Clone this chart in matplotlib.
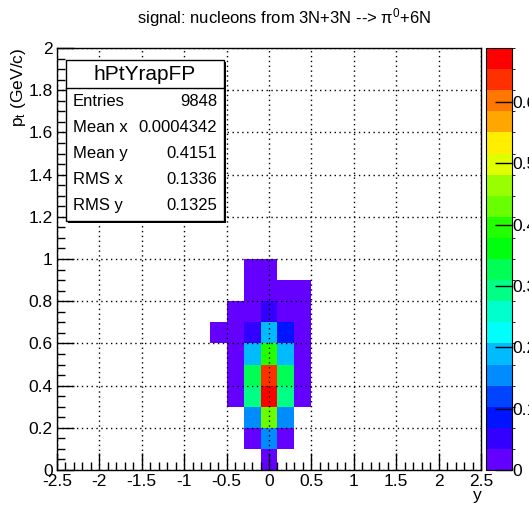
import colorsys
import numpy as np
import matplotlib
matplotlib.use("Agg")
import matplotlib.pyplot as plt
from matplotlib.colors import ListedColormap, BoundaryNorm
from matplotlib.ticker import MultipleLocator, FuncFormatter
from matplotlib.patches import Rectangle

plt.rcParams['font.family'] = ['Liberation Sans', 'DejaVu Sans']
plt.rcParams['axes.unicode_minus'] = False
plt.rcParams['mathtext.fontset'] = 'custom'
plt.rcParams['mathtext.rm'] = 'Liberation Sans'
plt.rcParams['mathtext.it'] = 'Liberation Sans'

# ---- data : contenu des bins (rapidite x pt) ----
y_centers = [-0.6, -0.4, -0.2, 0.0, 0.2, 0.4]       # centres des bins en y (largeur 0.2)
pt_low = [0.0, 0.1, 0.2, 0.3, 0.4, 0.5, 0.6, 0.7, 0.8, 0.9]   # bords bas en pt (largeur 0.1)
contents = [
    [0, 0, 0, 0.012, 0, 0],
    [0, 0, 0.020, 0.160, 0.015, 0],
    [0, 0, 0.150, 0.430, 0.155, 0],
    [0, 0.020, 0.290, 0.688, 0.295, 0.020],
    [0, 0.025, 0.325, 0.635, 0.330, 0.025],
    [0, 0.020, 0.190, 0.395, 0.190, 0.020],
    [0.005, 0.015, 0.050, 0.190, 0.085, 0.012],
    [0, 0.010, 0.012, 0.050, 0.010, 0.008],
    [0, 0, 0.005, 0.010, 0.008, 0.004],
    [0, 0, 0.003, 0.006, 0, 0],
]
zmax = 0.688
stats_labels = ["Entries", "Mean x", "Mean y", "RMS x", "RMS y"]
stats_values = ["9848", "0.0004342", "0.4151", "0.1336", "0.1325"]

# ---- palette "pretty" de ROOT, 20 contours ----
ncont = 20
cols = []
for k in range(ncont):
    idx = int((k + 0.99) * 50 / ncont)
    hue = 280 - (idx + 1) * 5.6
    cols.append(colorsys.hls_to_rgb(hue / 360.0, 0.5, 1.0))
cmap = ListedColormap(cols)
levels = np.linspace(0, zmax, ncont + 1)
norm = BoundaryNorm(levels, cmap.N)

W, H = 529, 508
fig = plt.figure(figsize=(W / 100, H / 100), dpi=100)

def fx(x):
    return x / W

def fy(y):
    return 1 - y / H

ax = fig.add_axes([fx(57), fy(470), (481 - 57) / W, (470 - 48) / H])

xe = np.concatenate([np.array(y_centers) - 0.1, [y_centers[-1] + 0.1]])
ye = np.concatenate([pt_low, [pt_low[-1] + 0.1]])
z = np.ma.masked_equal(np.array(contents), 0)
ax.pcolormesh(xe, ye, z, cmap=cmap, norm=norm)

ax.set_xlim(-2.5, 2.5)
ax.set_ylim(0, 2)
ax.xaxis.set_major_locator(MultipleLocator(0.5))
ax.xaxis.set_minor_locator(MultipleLocator(0.1))
ax.yaxis.set_major_locator(MultipleLocator(0.2))
ax.yaxis.set_minor_locator(MultipleLocator(0.05))
fmt = FuncFormatter(lambda v, p: "%g" % round(v, 3))
ax.xaxis.set_major_formatter(fmt)
ax.yaxis.set_major_formatter(fmt)
ax.tick_params(which='major', direction='in', length=12, width=1, labelsize=12.5,
               top=False, right=False, pad=3)
ax.tick_params(which='minor', direction='in', length=6, width=1, top=False, right=False)
ax.grid(True, which='major', color='black', linestyle=(0, (1, 2.5)), linewidth=1)
ax.set_axisbelow(False)
for s in ax.spines.values():
    s.set_linewidth(1)

fig.text(fx(18), fy(48), "p$_{t}$ (GeV/c)", rotation=90, ha='center', va='top', fontsize=12.5)
fig.text(fx(477), fy(503), "y", ha='center', va='bottom', fontsize=12.5)
fig.text(fx(284), fy(18), "signal: nucleons from 3N+3N --> \u03c0$^{0}$+6N",
         ha='center', va='center', fontsize=12)

# ---- barre de couleur ----
cax = fig.add_axes([fx(486), fy(470), 26 / W, (470 - 48) / H])
cb = fig.colorbar(plt.cm.ScalarMappable(norm=norm, cmap=cmap), cax=cax,
                  ticks=[0, 0.1, 0.2, 0.3, 0.4, 0.5, 0.6])
cb.outline.set_linewidth(0.8)
cax.yaxis.set_major_formatter(fmt)
cax.tick_params(direction='in', length=12, width=1, labelsize=12.5, pad=0)

# ---- boite de stats ----
sh = Rectangle((fx(68), fy(223)), (224 - 66) / W, (221 - 60) / H, transform=fig.transFigure,
               facecolor='black', edgecolor='none', zorder=5)
box = Rectangle((fx(66), fy(221)), (224 - 66) / W, (221 - 60) / H, transform=fig.transFigure,
                facecolor='white', edgecolor='black', linewidth=1, zorder=6)
fig.add_artist(sh)
fig.add_artist(box)
fig.add_artist(plt.Line2D([fx(66), fx(224)], [fy(88), fy(88)], transform=fig.transFigure,
                          color='black', linewidth=1, zorder=7))
fig.text(fx(145), fy(74), "hPtYrapFP", ha='center', va='center', fontsize=15, zorder=8)
for i in range(len(stats_labels)):
    yy = 101 + i * 26.2
    fig.text(fx(73), fy(yy), stats_labels[i], ha='left', va='center', fontsize=12, zorder=8)
    fig.text(fx(217), fy(yy), stats_values[i], ha='right', va='center', fontsize=12, zorder=8)

fig.savefig("out.png", dpi=100)
